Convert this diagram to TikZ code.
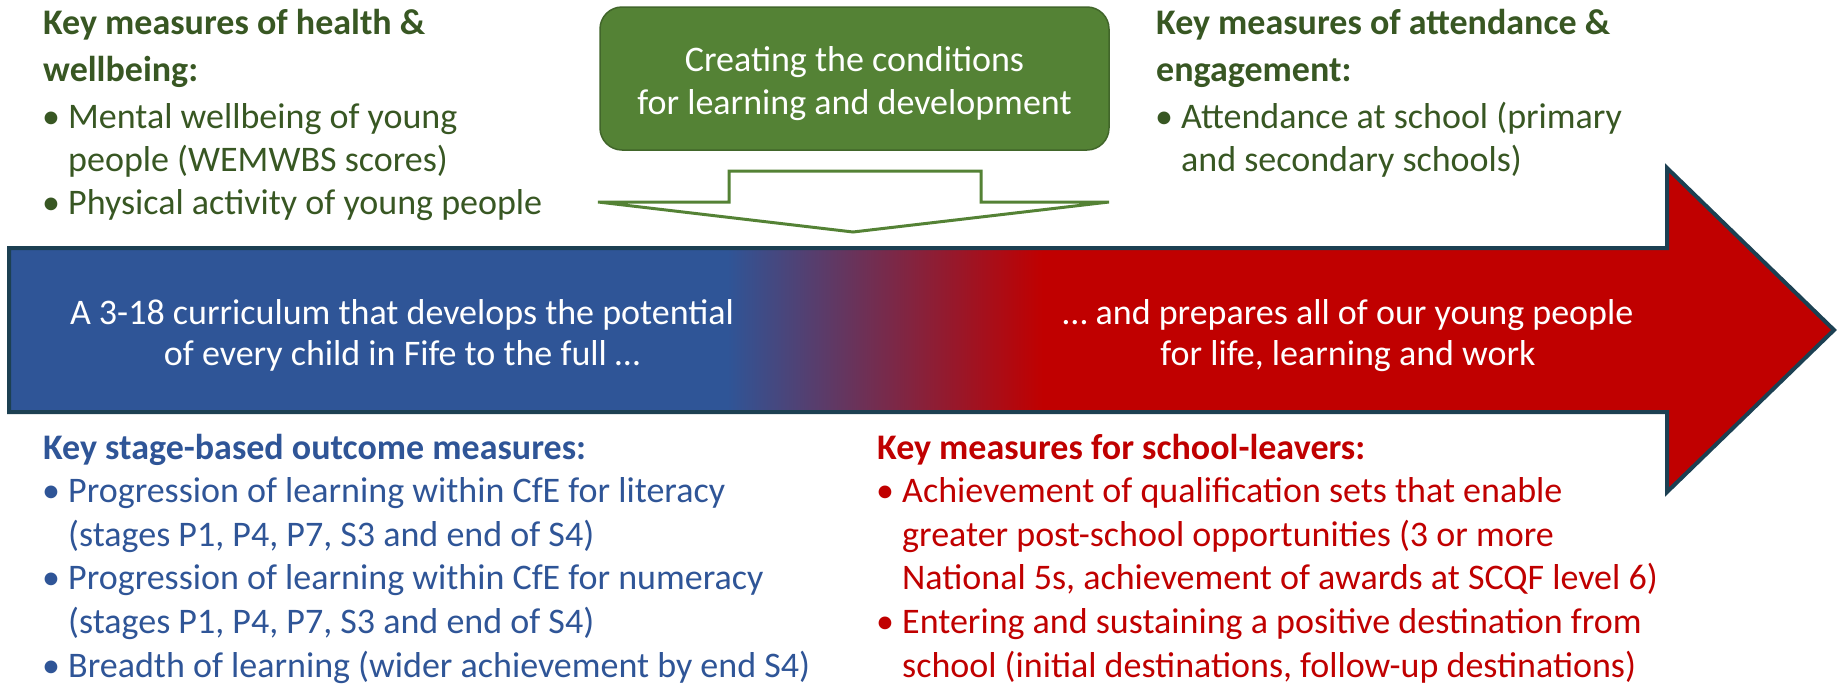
\documentclass[tikz,border=0pt]{standalone}
\usepackage{fontspec}
\setmainfont{Carlito}
\definecolor{dkgreen}{RGB}{56,87,35}
\definecolor{boxgreen}{RGB}{84,130,53}
\definecolor{boxedge}{RGB}{65,102,42}
\definecolor{myblue}{RGB}{47,85,151}
\definecolor{myred}{RGB}{192,0,0}
\definecolor{arrowedge}{RGB}{28,64,82}
\newcommand{\bul}{\hspace*{-1pt}\makebox[26pt][l]{•}}
\newcommand{\ind}{\hspace*{25pt}}
\begin{document}
\begin{tikzpicture}[x=1pt,y=-1pt,
  txt/.style={inner sep=0pt, align=left, anchor=base west, font=\fontsize{36}{43}\selectfont},
  btxt/.style={inner sep=0pt, align=left, anchor=base west, font=\fontsize{36}{43.6}\selectfont},
  arrowtxt/.style={inner sep=0pt, align=center, anchor=base, text=white, font=\fontsize{36}{41}\selectfont},
  greenbox/.style={draw=boxedge, line width=1.5pt, fill=boxgreen, rounded corners=22pt,
     minimum width=509pt, minimum height=143pt, inner sep=0pt},
  boxtxt/.style={text=white, align=center, font=\fontsize{36}{43}\selectfont, inner sep=0pt, anchor=base},
  hollow/.style={draw=boxgreen, line width=3pt, fill=white, line join=miter},
  bigedge/.style={draw=arrowedge, line width=4pt, line join=miter}
]
\useasboundingbox (0,0) rectangle (1838,683);

% big arrow
\def\arrowpath{(9,248) -- (1667,248) -- (1667,168) -- (1834,330) -- (1667,492) -- (1667,412) -- (9,412) -- cycle}
\begin{scope}
  \clip \arrowpath;
  \fill[myblue] (0,150) rectangle (727,500);
  \shade[left color=myblue, right color=myred] (727,150) rectangle (1043,500);
  \fill[myred] (1043,150) rectangle (1838,500);
\end{scope}
\draw[bigedge] \arrowpath;

% arrow texts
\node[arrowtxt] (lefttxt) at (402,365) {A 3-18 curriculum that develops the potential\\of every child in Fife to the full \dots};
\node[arrowtxt] (righttxt) at (1348,365) {\dots{} and prepares all of our young people\\for life, learning and work};

% green box
\node[greenbox] (cond) at (854.5,78.5) {};
\node[boxtxt] (condtxt) at (854.5,114) {Creating the conditions\\for learning and development};

% hollow down arrow
\draw[hollow] (598,202) -- (729,202) -- (729,171) -- (981,171) -- (981,202) -- (1109,202) -- (853,232) -- cycle;

% top-left
\node[txt, text=dkgreen] (health) at (43,214) {\textbf{Key measures of health \&}\\[4pt]\textbf{wellbeing:}\\[4pt]\bul Mental wellbeing of young\\\ind people (WEMWBS scores)\\\bul Physical activity of young people};

% top-right
\node[txt, text=dkgreen] (attend) at (1156,171) {\textbf{Key measures of attendance \&}\\[4pt]\textbf{engagement:}\\[4pt]\bul Attendance at school (primary\\\ind and secondary schools)};

% bottom-left
\node[btxt, text=myblue] (stage) at (43,677) {\textbf{Key stage-based outcome measures:}\\\bul Progression of learning within CfE for literacy\\\ind (stages P1, P4, P7, S3 and end of S4)\\\bul Progression of learning within CfE for numeracy\\\ind (stages P1, P4, P7, S3 and end of S4)\\\bul Breadth of learning (wider achievement by end S4)};

% bottom-right
\node[btxt, text=myred] (leavers) at (877,677) {\textbf{Key measures for school-leavers:}\\\bul Achievement of qualification sets that enable\\\ind greater post-school opportunities (3 or more\\\ind National 5s, achievement of awards at SCQF level 6)\\\bul Entering and sustaining a positive destination from\\\ind school (initial destinations, follow-up destinations)};
\end{tikzpicture}
\end{document}
